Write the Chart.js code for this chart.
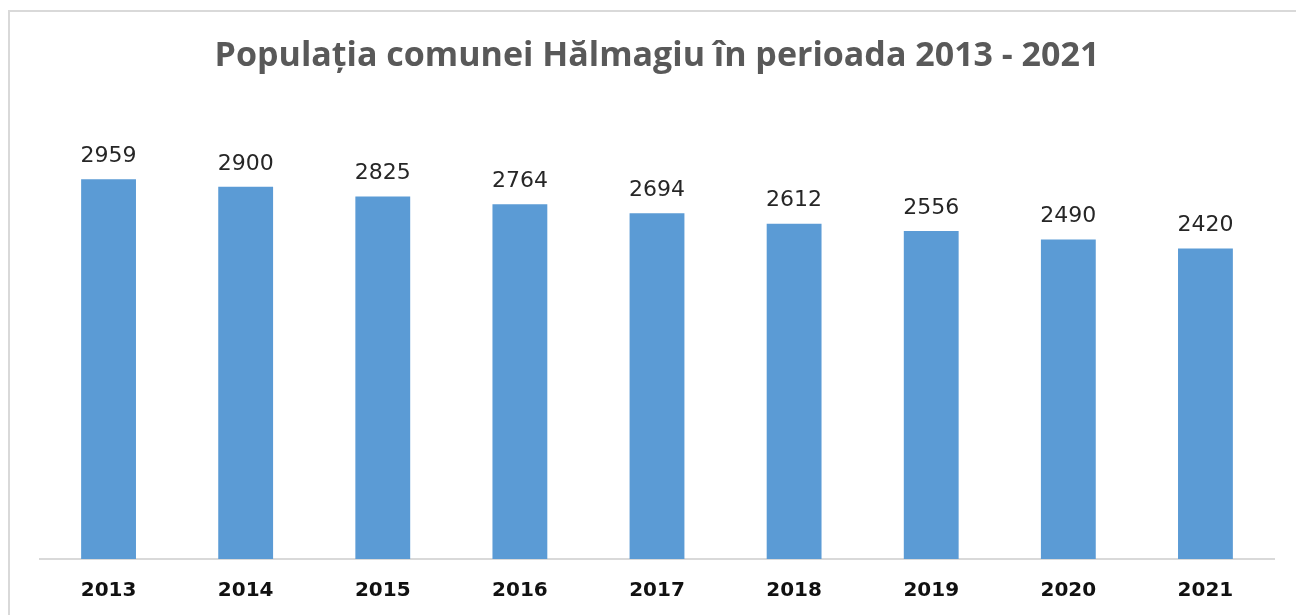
<!DOCTYPE html>
<html>
<head>
<meta charset="utf-8">
<script src="https://cdn.jsdelivr.net/npm/chart.js@4"></script>
<style>
    body { margin: 0; background: #fff; }
    #wrap { position: relative; width: 1296px; height: 615px; overflow: hidden; }
    #frame { position: absolute; left: 8px; top: 10px; width: 1400px; height: 700px; border-top: 2px solid #d9d9d9; border-left: 2px solid #d9d9d9; }
    #populatieChart { position: absolute; left: 0; top: 0; }
</style>
</head>
<body>
<div id="wrap">
    <div id="frame"></div>
    <canvas id="populatieChart" width="1296" height="615"></canvas>
</div>
<script>
// date populatie
const ani = ['2013', '2014', '2015', '2016', '2017', '2018', '2019', '2020', '2021'];
const populatie = [2959, 2900, 2825, 2764, 2694, 2612, 2556, 2490, 2420];

// etichete deasupra barelor
const eticheteValori = {
    id: 'eticheteValori',
    afterDatasetsDraw(chart) {
        const ctx = chart.ctx;
        const meta = chart.getDatasetMeta(0);
        ctx.save();
        ctx.font = '22px "DejaVu Sans"';
        ctx.fillStyle = '#262626';
        ctx.textAlign = 'center';
        ctx.textBaseline = 'middle';
        meta.data.forEach((bar, i) => {
            ctx.fillText(String(populatie[i]), bar.x, bar.y - 23);
        });
        ctx.restore();
    }
};

new Chart(document.getElementById('populatieChart'), {
    type: 'bar',
    data: {
        labels: ani,
        datasets: [{
            label: 'Populatie',
            data: populatie,
            backgroundColor: '#5B9BD5',
            barPercentage: 0.4,
            categoryPercentage: 1.0
        }]
    },
    options: {
        responsive: false,
        animation: false,
        layout: { padding: { left: 40, right: 22, top: 0, bottom: 0 } },
        plugins: {
            legend: { display: false },
            tooltip: { enabled: false },
            title: {
                display: true,
                text: 'Populația comunei Hălmagiu în perioada 2013 - 2021',
                color: '#595959',
                font: { family: '"Open Sans"', size: 34, weight: 'bold', lineHeight: 1.2 },
                padding: { top: 36, bottom: 33 }
            }
        },
        scales: {
            y: { display: false, min: 0, max: 3500 },
            x: {
                afterFit(scale) { scale.height = 56; },
                grid: { display: false, drawTicks: false },
                border: { display: true, color: '#d9d9d9', width: 2 },
                ticks: {
                    color: '#111',
                    padding: 20,
                    font: { family: '"DejaVu Sans"', size: 20, weight: 'bold', lineHeight: 1.2 }
                }
            }
        }
    },
    plugins: [eticheteValori]
});
</script>
</body>
</html>
